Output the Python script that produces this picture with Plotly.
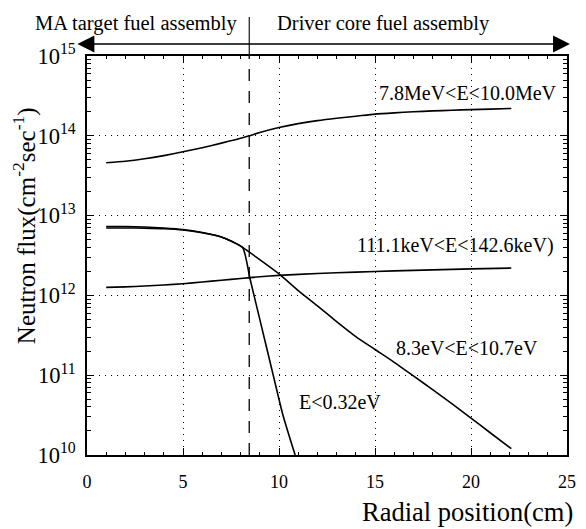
import plotly.graph_objects as go

# ---------------- data ----------------
x_fast = [1, 2, 3, 4, 5, 6, 7, 8, 8.45, 9, 10, 11, 12, 13, 14, 15, 16, 17, 18, 19, 20, 21, 22.1]
y_fast = [4.6e13, 4.8e13, 5.15e13, 5.65e13, 6.3e13, 7.1e13, 8.1e13, 9.3e13, 1.0e14, 1.1e14,
          1.27e14, 1.42e14, 1.55e14, 1.66e14, 1.76e14, 1.87e14, 1.94e14, 2.0e14, 2.05e14,
          2.09e14, 2.13e14, 2.16e14, 2.2e14]

x_kev = [1, 2, 3, 4, 5, 6, 7, 8, 9, 10, 12, 14, 16, 18, 20, 22.1]
y_kev = [1.26e12, 1.28e12, 1.31e12, 1.35e12, 1.4e12, 1.47e12, 1.55e12, 1.63e12, 1.71e12,
         1.78e12, 1.88e12, 1.96e12, 2.03e12, 2.09e12, 2.15e12, 2.2e12]

x_ev = [1, 2, 3, 4, 5, 6, 7, 7.5, 8.11, 9, 10, 11, 12, 13, 14, 15, 16, 17, 18, 19, 20, 21, 22.1]
y_ev = [7.0e12, 7.0e12, 6.95e12, 6.85e12, 6.6e12, 6.1e12, 5.4e12, 4.8e12, 4.0e12, 2.8e12,
        1.86e12, 1.15e12, 7.4e11, 4.7e11, 3.05e11, 2.1e11, 1.45e11, 9.8e10, 6.6e10, 4.4e10,
        2.9e10, 1.9e10, 1.2e10]

x_th = [1, 2, 3, 4, 5, 6, 7, 7.5, 8.11, 8.5, 9, 9.7, 10.2, 10.84]
y_th = [7.3e12, 7.3e12, 7.2e12, 7.0e12, 6.7e12, 6.15e12, 5.4e12, 4.8e12, 3.95e12, 1.58e12,
        5.0e11, 1.0e11, 3.2e10, 1.0e10]

boundary_x = 8.45
x_ticks = [0, 5, 10, 15, 20, 25]

labels = [
    ("7.8MeV<E<10.0MeV", 19.84, 14.54),
    ("111.1keV<E<142.6keV)", 19.2, 12.63),
    ("8.3eV<E<10.7eV", 19.8, 11.34),
    ("E<0.32eV", 13.2, 10.66),
]

FONT = "Liberation Serif, Times New Roman, serif"

fig = go.Figure()
for xs, ys in [(x_fast, y_fast), (x_kev, y_kev), (x_ev, y_ev), (x_th, y_th)]:
    fig.add_trace(go.Scatter(x=xs, y=ys, mode="lines",
                             line=dict(color="black", width=1.6, shape="spline", smoothing=0.6),
                             showlegend=False, hoverinfo="skip"))

# boundary: dashed inside plot, solid above
fig.add_shape(type="line", xref="x", yref="paper", x0=boundary_x, x1=boundary_x, y0=0, y1=1,
              line=dict(color="black", width=1.3, dash="12px,10px"))
fig.add_shape(type="line", xref="x", yref="paper", x0=boundary_x, x1=boundary_x,
              y0=1, y1=(455 - 17) / 399, line=dict(color="black", width=1.1))

# double headed arrow across the top
fig.add_annotation(xref="paper", yref="paper", axref="pixel", ayref="pixel",
                   x=(579 - 87) / 489, y=(455 - 44) / 399, ax=-(579 - 85), ay=0,
                   showarrow=True, arrowhead=2, startarrowhead=2, arrowside="end+start",
                   arrowsize=2.6, startarrowsize=2.6, arrowwidth=1.3, arrowcolor="black", text="")

def paper_text(txt, px, py, size, angle=0):
    fig.add_annotation(xref="paper", yref="paper", x=(px - 87) / 489, y=(455 - py) / 399,
                       xanchor="center", yanchor="middle", text=txt, showarrow=False,
                       textangle=angle, font=dict(family=FONT, size=size, color="black"))

paper_text("MA target fuel assembly", 137, 23, 20.5)
paper_text("Driver core fuel assembly", 389, 23, 20.5)
paper_text("Radial position(cm)", 475, 512, 26.5)
paper_text("Neutron flux(cm<sup>-2</sup>sec<sup>-1</sup>)", 23, 226, 25, angle=-90)

for t, lx, ly in labels:
    fig.add_annotation(x=lx, y=ly, text=t, showarrow=False, xanchor="center", yanchor="middle",
                       font=dict(family=FONT, size=20, color="black"))

grid = dict(showgrid=True, gridcolor="black", griddash="1px,5px", gridwidth=1)

fig.update_xaxes(range=[0, 25], tickvals=x_ticks, ticks="inside", ticklen=7, tickwidth=1,
                 tickcolor="black", mirror="ticks", showline=True, linecolor="black", linewidth=1.5,
                 zeroline=False, tickfont=dict(family=FONT, size=18, color="black"),
                 ticklabelstandoff=10, **grid,
                 minor=dict(dtick=1, ticks="inside", ticklen=3, tickcolor="black", showgrid=False))
fig.update_yaxes(type="log", range=[10, 15], dtick=1, exponentformat="power", ticks="inside",
                 ticklen=7, tickwidth=1, tickcolor="black", mirror="ticks", showline=True,
                 linecolor="black", linewidth=1.5, zeroline=False,
                 tickfont=dict(family=FONT, size=18, color="black"), ticklabelstandoff=6, **grid,
                 minor=dict(dtick="D1", ticks="inside", ticklen=4, tickcolor="black", showgrid=False))

fig.update_layout(width=586, height=529, margin=dict(l=87, r=10, t=56, b=74),
                  paper_bgcolor="white", plot_bgcolor="white",
                  font=dict(family=FONT, color="black"))

fig.write_html("out.html")
